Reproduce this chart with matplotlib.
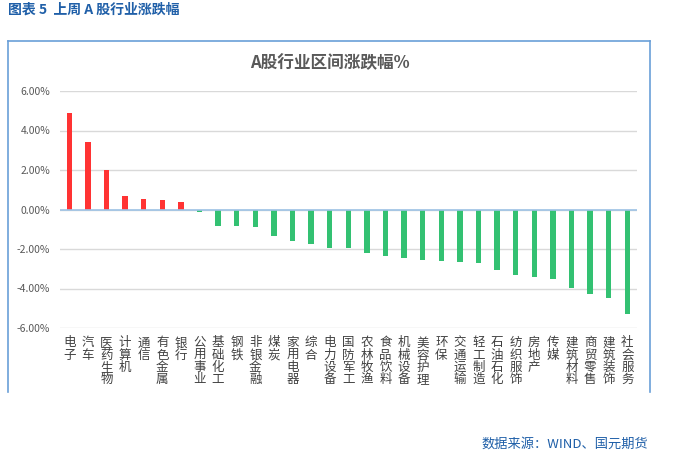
import matplotlib
matplotlib.use("Agg")
import matplotlib.pyplot as plt
from matplotlib.lines import Line2D
from matplotlib.ticker import FuncFormatter

plt.rcParams['font.family'] = ['Noto Sans CJK SC', 'DejaVu Sans']

categories = ["电子", "汽车", "医药生物", "计算机", "通信", "有色金属", "银行", "公用事业",
              "基础化工", "钢铁", "非银金融", "煤炭", "家用电器", "综合", "电力设备", "国防军工",
              "农林牧渔", "食品饮料", "机械设备", "美容护理", "环保", "交通运输", "轻工制造",
              "石油石化", "纺织服饰", "房地产", "传媒", "建筑材料", "商贸零售", "建筑装饰", "社会服务"]
values = [4.88, 3.40, 1.98, 0.67, 0.51, 0.46, 0.36, -0.14,
          -0.86, -0.86, -0.91, -1.32, -1.58, -1.74, -1.93, -1.94,
          -2.19, -2.36, -2.46, -2.56, -2.62, -2.67, -2.72,
          -3.08, -3.33, -3.44, -3.54, -3.95, -4.26, -4.46, -5.28]
yticks = [-6, -4, -2, 0, 2, 4, 6]

W, H = 679, 462
fig = plt.figure(figsize=(W / 100, H / 100), dpi=100)
fig.patch.set_facecolor('white')

ax = fig.add_axes([60 / W, 1 - 328 / H, 576.6 / W, 237 / H])
x = list(range(len(categories)))
colors = ['#FF3333' if v >= 0 else '#33C172' for v in values]
ax.bar(x, values, width=0.3, color=colors, zorder=3)
ax.set_xlim(-0.5, len(categories) - 0.5)
ax.set_ylim(-6, 6)
ax.set_yticks(yticks)
ax.yaxis.set_major_formatter(FuncFormatter(lambda v, p: f"{v:.2f}%"))
ax.grid(axis='y', color='#D9D9D9', linewidth=1, zorder=0)
ax.axhline(0, color='#9DC3E6', linewidth=1.2, zorder=4)
for s in ax.spines.values():
    s.set_visible(False)
ax.tick_params(axis='y', length=0, pad=7, labelsize=7.5, labelcolor='#595959')
ax.tick_params(axis='x', length=0, pad=6, labelsize=9, labelcolor='#404040')
ax.set_xticks(x)
ax.set_xticklabels(["\n".join(c) for c in categories], linespacing=0.93, va='top')

# chart title
fig.text(330 / W, 1 - 63 / H, "A股行业区间涨跌幅%", ha='center', va='center',
         fontsize=12, fontweight='bold', color='#595959')

# frame (open at bottom)
fc = '#6A9FD8'
fig.add_artist(Line2D([8 / W, 8 / W], [1 - 392 / H, 1 - 41 / H], color=fc, lw=1.2))
fig.add_artist(Line2D([8 / W, 650 / W], [1 - 41 / H, 1 - 41 / H], color=fc, lw=1.2))
fig.add_artist(Line2D([650 / W, 650 / W], [1 - 41 / H, 1 - 392 / H], color=fc, lw=1.2))

# header and source
fig.text(8 / W, 1 - 10 / H, "图表 5  上周 A 股行业涨跌幅", ha='left', va='center',
         fontsize=10, fontweight='bold', color='#1F5FA8')
fig.text(648 / W, 1 - 444 / H, "数据来源：WIND、国元期货", ha='right', va='center',
         fontsize=9.5, color='#1F5FA8')

fig.savefig("out.png", dpi=100, facecolor='white')
